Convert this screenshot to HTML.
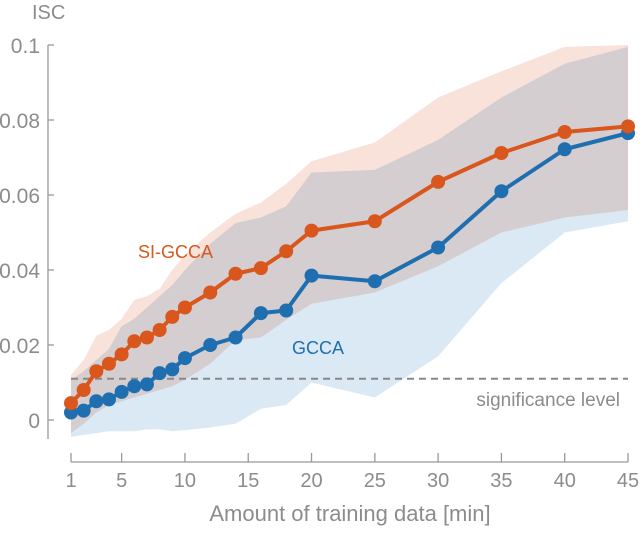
<!DOCTYPE html>
<html><head><meta charset="utf-8"><style>
body{margin:0;background:#fff}
svg text{font-family:"Liberation Sans","DejaVu Sans",sans-serif}
</style></head><body>
<svg id="chart" width="640" height="528" xmlns="http://www.w3.org/2000/svg">
<g id="bands"></g>
<g id="axes"></g>
<g id="lines"></g>
</svg>
<script>
const xs = [1,2,3,4,5,6,7,8,9,10,12,14,16,18,20,25,30,35,40,45];
const siGcca = [0.0045,0.008,0.013,0.015,0.0175,0.021,0.022,0.024,0.0275,0.030,0.034,0.039,0.0405,0.045,0.0505,0.053,0.0635,0.0712,0.0768,0.0783];
const gcca = [0.002,0.0025,0.005,0.0055,0.0075,0.009,0.0095,0.0125,0.0135,0.0165,0.020,0.022,0.0285,0.0292,0.0385,0.037,0.046,0.061,0.0722,0.0765];
const siUpper = [0.012,0.016,0.0225,0.024,0.027,0.032,0.033,0.035,0.040,0.044,0.050,0.055,0.058,0.063,0.069,0.074,0.086,0.093,0.0995,0.1];
const siLower = [-0.0035,-0.001,0.002,0.004,0.005,0.006,0.007,0.008,0.009,0.0107,0.015,0.0213,0.022,0.0267,0.031,0.034,0.041,0.050,0.054,0.056];
const gUpper = [0.0107,0.013,0.016,0.019,0.025,0.027,0.030,0.033,0.036,0.040,0.047,0.0525,0.054,0.057,0.066,0.0667,0.0747,0.086,0.095,0.0995];
const gLower = [-0.0045,-0.004,-0.0035,-0.003,-0.003,-0.003,-0.0025,-0.0025,-0.003,-0.0027,-0.002,-0.001,0.003,0.004,0.010,0.006,0.017,0.0365,0.050,0.053];
const yTicks = [0,0.02,0.04,0.06,0.08,0.1];
const yTickLabels = ["0","0.02","0.04","0.06","0.08","0.1"];
const xTicks = [1,5,10,15,20,25,30,35,40,45];
const sigLevel = 0.011;

const NS="http://www.w3.org/2000/svg";
const X = v => 71 + (v-1)*(557/44);
const Y = v => 420 - v*3750;
function mk(tag, attrs, parent, txt){const e=document.createElementNS(NS,tag);for(const k in attrs)e.setAttribute(k,attrs[k]);if(txt!=null)e.textContent=txt;document.getElementById(parent).appendChild(e);return e;}
function band(up,lo){let p=xs.map((x,i)=>X(x)+','+Y(up[i]));for(let i=xs.length-1;i>=0;i--)p.push(X(xs[i])+','+Y(lo[i]));return p.join(' ');}

let e=mk('polygon',{points:band(siUpper,siLower),fill:'#f8e2da'},'bands');


e=mk('polygon',{points:band(gUpper,gLower),fill:'#dae9f4',style:'mix-blend-mode:multiply'},'bands');



e=mk('line',{x1:48,y1:Y(0.1),x2:48,y2:439,stroke:'#999','stroke-width':1.3},'axes');


yTicks.forEach((t,i)=>{
  mk('line',{x1:48,y1:Y(t),x2:54,y2:Y(t),stroke:'#999','stroke-width':1.3},'axes');
  e=mk('text',{x:40,y:Y(t)+8,'text-anchor':'end','font-size':21,fill:'#8c8c8c'},'axes',yTickLabels[i]);
  
  
});
e=mk('line',{x1:71,y1:462,x2:628,y2:462,stroke:'#999','stroke-width':1.3},'axes');


xTicks.forEach(t=>{
  mk('line',{x1:X(t),y1:462,x2:X(t),y2:453,stroke:'#999','stroke-width':1.3},'axes');
  e=mk('text',{x:X(t),y:487,'text-anchor':'middle','font-size':20,fill:'#8c8c8c'},'axes',String(t));
  
  
});
e=mk('text',{x:350,y:521,'text-anchor':'middle','font-size':22,fill:'#8c8c8c'},'axes','Amount of training data [min]');


e=mk('text',{x:32,y:19,'font-size':20,fill:'#8c8c8c'},'axes','ISC');


e=mk('line',{x1:71,y1:Y(sigLevel),x2:628,y2:Y(sigLevel),stroke:'#888','stroke-width':2,'stroke-dasharray':'7,5'},'axes');


e=mk('text',{x:620,y:406,'text-anchor':'end','font-size':19,fill:'#8c8c8c'},'axes','significance level');



function series(vals,color,name){
  e=mk('polyline',{points:xs.map((x,i)=>X(x)+','+Y(vals[i])).join(' '),fill:'none',stroke:color,'stroke-width':4,'stroke-linejoin':'round'},'lines');
  
  
  xs.forEach((x,i)=>{
    e=mk('circle',{cx:X(x),cy:Y(vals[i]),r:7,fill:color},'lines');
    
    
  });
}
series(gcca,'#1f6fb0','gcca');
series(siGcca,'#d9561c','si-gcca');
e=mk('text',{x:138,y:258,'font-size':18,fill:'#d9561c'},'lines','SI-GCCA');


e=mk('text',{x:292,y:354,'font-size':18,fill:'#1f6fb0'},'lines','GCCA');


</script>
</body></html>
